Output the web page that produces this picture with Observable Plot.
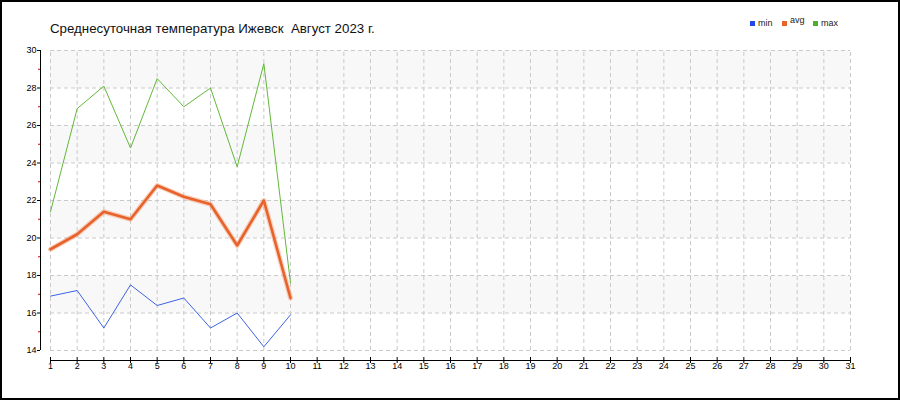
<!DOCTYPE html>
<html><head><meta charset="utf-8">
<script src="https://cdn.jsdelivr.net/npm/d3@7"></script>
<script src="https://cdn.jsdelivr.net/npm/@observablehq/plot@0.6"></script>
<style>
body{margin:0;background:#fff;}
#wrap{position:relative;width:900px;height:400px;overflow:hidden;font-family:"Liberation Sans",Arial,sans-serif;}
#chart{position:absolute;left:0;top:0;}
#title{position:absolute;left:50px;top:22px;font-size:13.3px;line-height:13px;color:#111;white-space:pre;}
.sw{position:absolute;width:5px;height:5px;top:21px;}
.lt{position:absolute;font-size:9px;line-height:9px;color:#222;top:19px;}
#frame{position:absolute;left:0;top:0;width:900px;height:400px;box-sizing:border-box;border:2px solid #000;pointer-events:none;}
</style></head><body>
<div id="wrap"><div id="chart"></div><div id="title"></div><div id="legend"></div><div id="frame"></div></div>
<script>
const titleText = "Среднесуточная температура Ижевск  Август 2023 г.";
const days = [1, 2, 3, 4, 5, 6, 7, 8, 9, 10];
const minTemp = [16.9, 17.2, 15.2, 17.5, 16.4, 16.8, 15.2, 16.0, 14.2, 15.9];
const avgTemp = [19.4, 20.2, 21.4, 21.0, 22.8, 22.2, 21.8, 19.6, 22.0, 16.8];
const maxTemp = [21.4, 26.9, 28.1, 24.8, 28.5, 27.0, 28.0, 23.8, 29.3, 17.6];
const xTicks = [1,2,3,4,5,6,7,8,9,10,11,12,13,14,15,16,17,18,19,20,21,22,23,24,25,26,27,28,29,30,31];
const yTicks = [14, 16, 18, 20, 22, 24, 26, 28, 30];
const yMinorTicks = [15, 17, 19, 21, 23, 25, 27, 29];
const shadedBands = [[16, 18], [20, 22], [24, 26], [28, 30]];
const seriesNames = ["min", "avg", "max"];
const seriesColors = ["#2447e6", "#e8622c", "#4cae2a"];

document.getElementById("title").textContent = titleText;

// legend
const legend = document.getElementById("legend");
const legendX = [750, 782, 813];
seriesNames.forEach((name, i) => {
  const sw = document.createElement("div");
  sw.className = "sw";
  sw.style.left = legendX[i] + "px";
  sw.style.background = seriesColors[i];
  legend.appendChild(sw);
  const t = document.createElement("div");
  t.className = "lt";
  t.style.left = (legendX[i] + 8) + "px";
  if (name === "avg") t.style.top = "16px";
  t.textContent = name;
  legend.appendChild(t);
});

const rows = days.map((d, i) => ({day: d, min: minTemp[i], avg: avgTemp[i], max: maxTemp[i]}));
const xFirst = xTicks[0], xLast = xTicks[xTicks.length - 1];
const yFirst = yTicks[0], yLast = yTicks[yTicks.length - 1];
const gridColor = "#c9c9c9";

const chart = Plot.plot({
  width: 900,
  height: 400,
  marginTop: 50,
  marginBottom: 50,
  marginLeft: 50,
  marginRight: 50,
  x: {domain: [xFirst, xLast]},
  y: {domain: [yFirst, yLast]},
  style: {fontFamily: '"Liberation Sans", Arial, sans-serif', fontSize: "9px", color: "#000", background: "transparent"},
  marks: [
    Plot.rect(shadedBands, {x1: () => xFirst, x2: () => xLast, y1: d => d[0], y2: d => d[1], fill: "#f8f8f8"}),
    Plot.ruleY(yTicks, {x1: () => xFirst, x2: () => xLast, stroke: gridColor, strokeDasharray: "4,3"}),
    Plot.ruleX(xTicks, {y1: () => yFirst, y2: () => yLast, stroke: gridColor, strokeDasharray: "4,3"}),
    // axis lines
    Plot.ruleX([xFirst], {y1: () => yFirst, y2: () => yLast, dx: -10, stroke: "#000"}),
    Plot.ruleY([yFirst], {x1: () => xFirst, x2: () => xLast, dy: 10, stroke: "#000"}),
    // x ticks crossing axis
    Plot.ruleX(xTicks, {y1: () => yFirst, y2: () => yFirst, dy: 10, insetTop: -3, insetBottom: -3, stroke: "#000"}),
    // y major ticks
    Plot.ruleY(yTicks, {x1: () => xFirst, x2: () => xFirst, dx: -10, insetLeft: -3, stroke: "#000"}),
    // y minor ticks (red)
    Plot.ruleY(yMinorTicks, {x1: () => xFirst, x2: () => xFirst, dx: -10, insetLeft: -2, stroke: "#e00000"}),
    Plot.axisX(xTicks, {anchor: "bottom", tickSize: 0, tickPadding: 12, label: null, fontSize: 9, fill: "#000", stroke: "none"}),
    Plot.axisY(yTicks, {anchor: "left", tickSize: 0, tickPadding: 14, label: null, fontSize: 9, fill: "#000", stroke: "none"}),
    // series
    Plot.line(rows, {x: "day", y: "min", stroke: "#3e63e4", strokeWidth: 1}),
    Plot.line(rows, {x: "day", y: "max", stroke: "#62b83a", strokeWidth: 1}),
    Plot.line(rows, {x: "day", y: "avg", stroke: "#f3b08e", strokeWidth: 5, strokeOpacity: 0.6}),
    Plot.line(rows, {x: "day", y: "avg", stroke: seriesColors[1], strokeWidth: 2.6})
  ]
});
document.getElementById("chart").appendChild(chart);
</script>
</body></html>
